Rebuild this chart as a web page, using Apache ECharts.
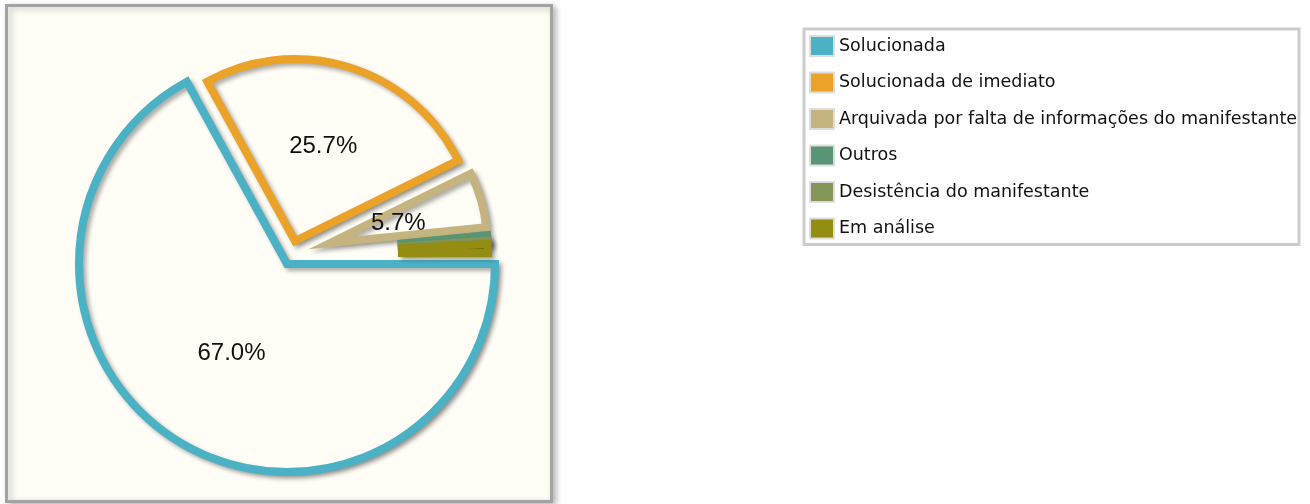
<!DOCTYPE html>
<html>
<head>
<meta charset="utf-8">
<script src="https://cdn.jsdelivr.net/npm/echarts@6/dist/echarts.min.js"></script>
<style>
  html, body { margin: 0; padding: 0; background: #ffffff; }
  #chart { width: 1310px; height: 504px; }
</style>
</head>
<body>
<div id="chart"></div>
<script>
// ---- data ----
const categories = [
  'Solucionada',
  'Solucionada de imediato',
  'Arquivada por falta de informações do manifestante',
  'Outros',
  'Desistência do manifestante',
  'Em análise'
];
const values = [67.0, 25.7, 5.7, 0.5, 0.3, 0.8];
const colors = ['#4bb2c5', '#eaa228', '#c5b47f', '#579575', '#839557', '#958c12'];
const labelThreshold = 3; // percent below which no label is shown

// ---- layout (jqPlot-like slice margins: each piece drawn with its own apex/radius) ----
const pieceOf = [0, 1, 2, 3, 3, 3];
const pieces = [
  { center: [287, 264], radius: [0, 208] },
  { center: [295, 241], radius: [0, 182] },
  { center: [330, 243], radius: [0, 157] },
  { center: [309, 253], radius: [93, 179] }
];
const labelOffsets = [[-1, -3], [0, -5], [-10, 3], [0, 0], [0, 0], [0, 0]];

// ---- chart ----
const total = values.reduce((a, b) => a + b, 0);
const bg = '#fffdf6';
const pct = v => v / total * 100;
const hidden = {
  color: 'rgba(0,0,0,0)', borderWidth: 0, borderColor: 'rgba(0,0,0,0)',
  shadowBlur: 0, shadowOffsetX: 0, shadowOffsetY: 0, shadowColor: 'rgba(0,0,0,0)'
};

const series = pieces.map((pc, p) => ({
  type: 'pie',
  z: 2 + p,
  center: pc.center,
  radius: pc.radius,
  startAngle: 0,
  clockwise: true,
  avoidLabelOverlap: false,
  silent: true,
  selectedMode: false,
  emphasis: { disabled: true, scale: false },
  label: {
    show: true,
    position: 'inner',
    fontFamily: 'Liberation Sans',
    fontSize: 24,
    color: '#111111',
    formatter: prm => (pieceOf[prm.dataIndex] === p && pct(prm.value) >= labelThreshold)
      ? pct(prm.value).toFixed(1) + '%' : ''
  },
  labelLine: { show: false },
  data: categories.map((name, i) => {
    const mine = pieceOf[i] === p;
    return {
      name: name,
      value: values[i],
      label: { offset: labelOffsets[i] },
      itemStyle: !mine ? hidden : {
        color: pct(values[i]) < labelThreshold ? colors[i] : bg,
        borderColor: colors[i], borderWidth: 8, borderJoin: 'miter', borderMiterLimit: 10,
        shadowColor: 'rgba(0,0,0,0.32)', shadowBlur: 4, shadowOffsetX: 3, shadowOffsetY: 3
      }
    };
  })
}));

const chart = echarts.init(document.getElementById('chart'), null, { renderer: 'canvas' });

chart.setOption({
  animation: false,
  color: colors,
  graphic: [{
    type: 'rect',
    z: 0,
    shape: { x: 6.5, y: 5.5, width: 545, height: 496 },
    style: {
      fill: bg,
      stroke: '#a3a3a3',
      lineWidth: 3,
      shadowColor: 'rgba(0,0,0,0.25)',
      shadowBlur: 6,
      shadowOffsetX: 3,
      shadowOffsetY: 2
    },
    silent: true
  }],
  legend: {
    orient: 'vertical',
    left: 804,
    top: 29,
    padding: [6, 2, 5, 5],
    backgroundColor: '#ffffff',
    borderColor: '#cccccc',
    borderWidth: 3,
    itemWidth: 24,
    itemHeight: 20,
    itemGap: 14.5,
    icon: 'rect',
    selectedMode: false,
    textStyle: {
      fontFamily: 'DejaVu Sans',
      fontSize: 17.5,
      color: '#111111'
    },
    data: categories.map((name, i) => ({
      name: name,
      itemStyle: { color: colors[i], borderColor: '#dddddd', borderWidth: 2,
                   shadowBlur: 0, shadowOffsetX: 0, shadowOffsetY: 0 }
    }))
  },
  series: series
});
</script>
</body>
</html>
